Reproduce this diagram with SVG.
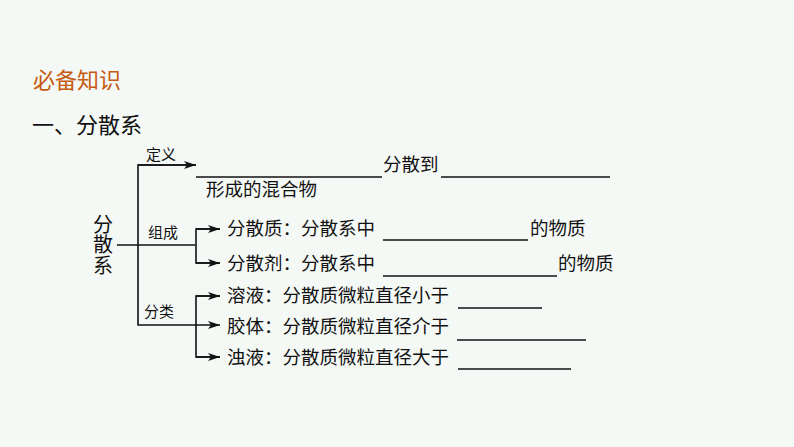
<svg xmlns="http://www.w3.org/2000/svg" width="794" height="447" viewBox="0 0 794 447">
<style>
text{font-family:"Noto Sans CJK SC","Noto Sans",sans-serif;fill:#111}
.h{font-size:22px}
.t{font-size:18.5px}
.s{font-size:15px}
.v{font-size:20px;writing-mode:vertical-rl;letter-spacing:0.5px}
.ln{stroke:#111;stroke-width:1.6;fill:none}
.bl{stroke:#111;stroke-width:1.4}
</style>
<defs>
<marker id="ah" viewBox="0 0 12 8" refX="12" refY="4" markerWidth="12" markerHeight="8" markerUnits="userSpaceOnUse" orient="auto">
<path d="M0,0 L12,4 L0,8 L3,4 Z" fill="#111"/>
</marker>
</defs>
<rect width="794" height="447" fill="#F5F9F6"/>
<g id="title">
<text class="h" x="33" y="88" style="fill:#C55A11">必备知识</text>
<text class="h" x="32" y="133">一、分散系</text>
</g>
<g id="root">
<text class="v" x="103" y="214">分散系</text>
</g>
<g id="connectors">
<polyline class="ln" points="117,245 195,245"/>
<polyline class="ln" points="196,165 138,165 138,325 220,325" marker-end="url(#ah)"/>
<line class="ln" x1="138" y1="165" x2="196" y2="165" marker-end="url(#ah)"/>
<polyline class="ln" points="220,229 196,229 196,263 220,263"/>
<line class="ln" x1="196" y1="229" x2="220" y2="229" marker-end="url(#ah)"/>
<line class="ln" x1="196" y1="263" x2="220" y2="263" marker-end="url(#ah)"/>
<polyline class="ln" points="220,296 196,296 196,357 220,357"/>
<line class="ln" x1="196" y1="296" x2="220" y2="296" marker-end="url(#ah)"/>
<line class="ln" x1="196" y1="357" x2="220" y2="357" marker-end="url(#ah)"/>
<text class="s" x="146" y="160">定义</text>
<text class="s" x="148" y="238">组成</text>
<text class="s" x="144" y="317">分类</text>
</g>
<g id="def">
<line class="bl" x1="196" y1="177" x2="382" y2="177"/>
<text class="t" x="383" y="171">分散到</text>
<line class="bl" x1="441" y1="177" x2="610" y2="177"/>
<text class="t" x="206" y="196">形成的混合物</text>
</g>
<g id="solute">
<text class="t" x="227" y="235">分散质：分散系中</text>
<line class="bl" x1="383" y1="240" x2="528" y2="240"/>
<text class="t" x="530" y="235">的物质</text>
</g>
<g id="solvent">
<text class="t" x="227" y="270">分散剂：分散系中</text>
<line class="bl" x1="383" y1="276" x2="557" y2="276"/>
<text class="t" x="558" y="270">的物质</text>
</g>
<g id="solution">
<text class="t" x="227" y="302">溶液：分散质微粒直径小于</text>
<line class="bl" x1="458" y1="308" x2="542" y2="308"/>
</g>
<g id="colloid">
<text class="t" x="227" y="333">胶体：分散质微粒直径介于</text>
<line class="bl" x1="457" y1="340" x2="586" y2="340"/>
</g>
<g id="suspension">
<text class="t" x="227" y="364">浊液：分散质微粒直径大于</text>
<line class="bl" x1="458" y1="369" x2="571" y2="369"/>
</g>
</svg>
